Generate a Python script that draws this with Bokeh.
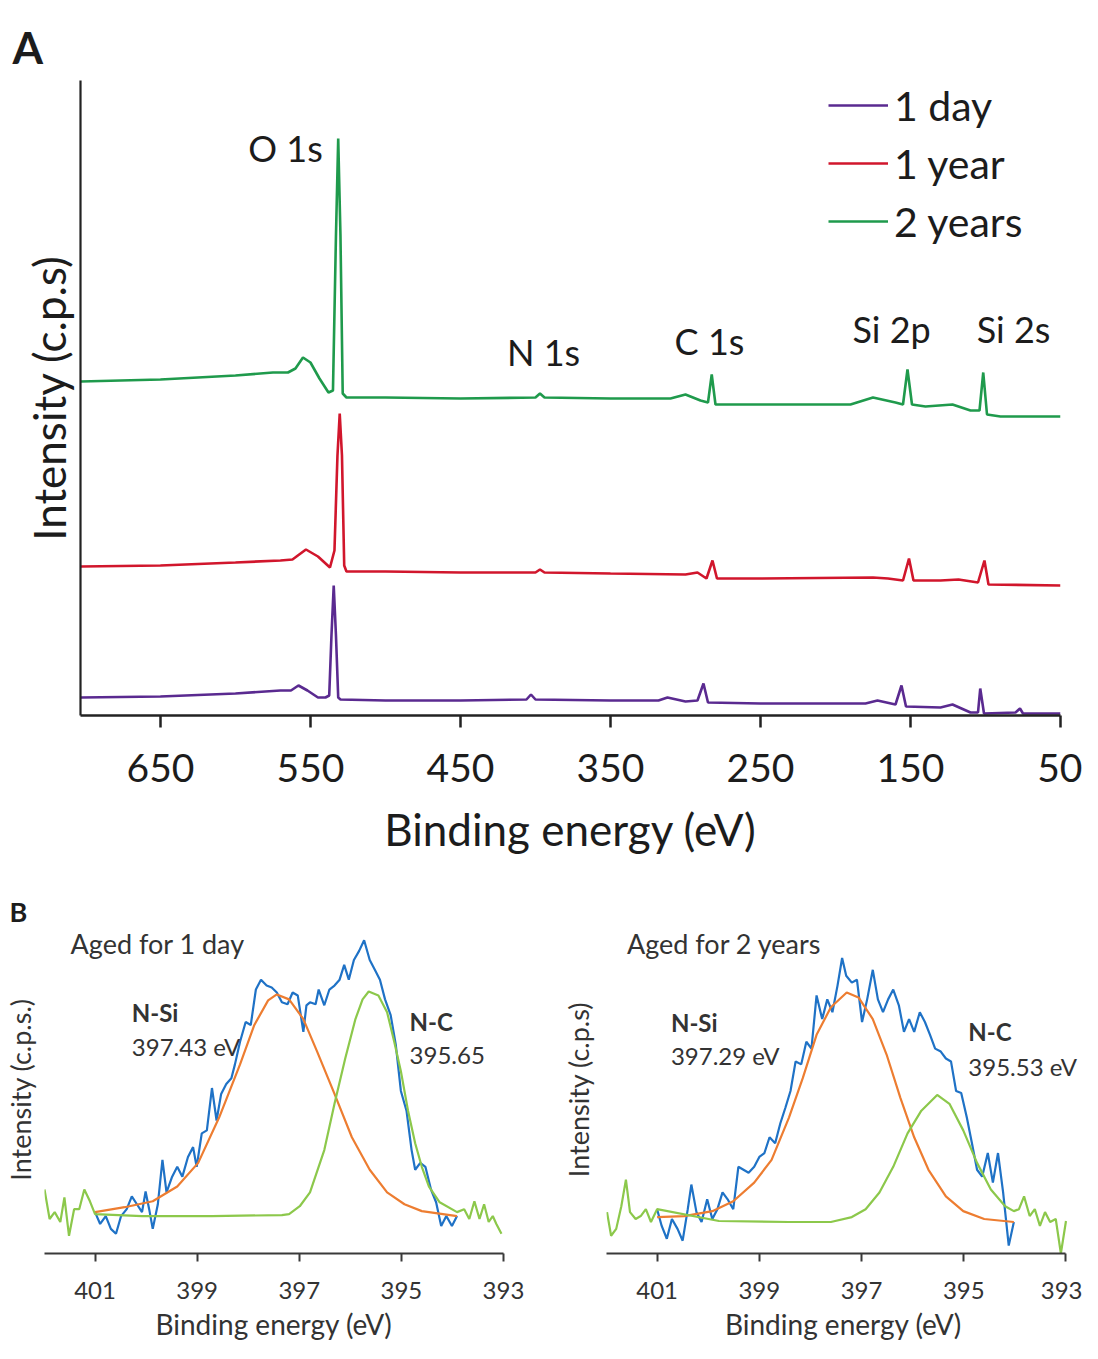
from bokeh.plotting import figure
from bokeh.models import Range1d, FixedTicker, Label, Legend, LegendItem
from bokeh.layouts import column, row
from bokeh.embed import file_html
from bokeh.resources import INLINE

FONT = "Lato"

# ---------------- Panel A : survey spectra ----------------
tick_A = [650, 550, 450, 350, 250, 150, 50]
series_A = ["1 day", "1 year", "2 years"]

be_1day = [703, 650, 600, 570, 563, 558, 552, 545, 540, 537.5, 536, 534.5, 533, 531.5, 530,
           500, 450, 406, 403, 400, 350, 318, 312, 300, 292, 288, 285, 250, 180, 172, 160,
           156, 153, 130, 122, 110, 105, 103.5, 101, 80, 77, 75, 50]
int_1day = [18, 19, 22, 25, 25, 30, 25, 18, 18, 20, 80, 130, 80, 18, 16,
            15, 15, 16, 21, 16, 15, 15, 18, 14, 15, 32, 13, 12, 12, 15, 11,
            30, 9, 8, 11, 3, 3, 27, 2, 3, 7, 2, 2]

be_1year = [703, 650, 600, 570, 562, 553, 545, 537, 534, 532, 530.5, 529, 527.5, 526,
            500, 450, 400, 397, 394, 350, 300, 292, 286, 282, 279, 250, 175, 165, 155,
            151, 148, 130, 118, 105, 100.7, 98, 50]
int_1year = [149, 150, 153, 155, 156, 166, 159, 148, 165, 260, 302, 260, 150, 144,
             144, 143, 143, 146, 143, 142, 141, 143, 137, 155, 137, 137, 138, 137, 135,
             157, 135, 135, 136, 133, 155, 131, 130]

be_2years = [703, 650, 600, 575, 565, 560, 555, 550, 544, 538, 535, 533, 531.5, 530, 528.5,
             526, 500, 450, 400, 397, 394, 350, 310, 300, 290, 285, 282.5, 280, 250, 190,
             175, 160, 155, 152, 149, 140, 122, 110, 104, 101.5, 99, 90, 50]
int_2years = [334, 336, 340, 343, 343, 347, 358, 353, 337, 323, 325, 480, 577, 480, 322,
              318, 318, 317, 318, 322, 318, 317, 317, 321, 315, 313, 341, 311, 311, 311,
              318, 313, 311, 346, 311, 309, 311, 305, 305, 343, 301, 299, 299]

peak_names = ["O 1s", "N 1s", "C 1s", "Si 2p", "Si 2s"]
peak_label_be = [566.6, 394.6, 284.0, 162.6, 81.3]
peak_label_int = [568, 364, 375, 387, 387]

# ---------------- Panel B : N 1s high resolution ----------------
tick_B = [401, 399, 397, 395, 393]

# Aged for 1 day
be_b1_data = [401.00, 400.90, 400.79, 400.69, 400.59, 400.49, 400.38, 400.28, 400.18, 400.08,
              400.01, 399.94, 399.87, 399.77, 399.68, 399.60, 399.49, 399.39, 399.29, 399.18,
              399.08, 399.01, 398.91, 398.81, 398.71, 398.62, 398.53, 398.43, 398.33, 398.26,
              398.16, 398.05, 397.95, 397.85, 397.75, 397.64, 397.54, 397.44, 397.34, 397.23,
              397.13, 397.03, 396.92, 396.86, 396.79, 396.68, 396.62, 396.51, 396.41, 396.31,
              396.21, 396.12, 396.03, 395.93, 395.83, 395.73, 395.62, 395.52, 395.42, 395.32,
              395.21, 395.11, 395.01, 394.90, 394.80, 394.73, 394.63, 394.53, 394.42, 394.32,
              394.22, 394.12, 394.01, 393.91]
int_b1_data = [42, 30, 38, 25, 20, 38, 45, 58, 50, 42,
               63, 45, 25, 50, 95, 62, 78, 88, 78, 98,
               108, 88, 122, 125, 168, 135, 162, 172, 178, 192,
               215, 235, 232, 268, 278, 272, 270, 265, 255, 253,
               265, 262, 225, 252, 255, 253, 268, 252, 268, 272,
               278, 293, 278, 298, 307, 318, 298, 288, 278, 258,
               242, 212, 165, 145, 105, 85, 92, 88, 65, 52,
               28, 38, 28, 38]

be_b1_nsi = [401.00, 400.42, 399.87, 399.39, 398.98, 398.57, 398.16, 397.88, 397.61, 397.44,
             397.20, 396.92, 396.65, 396.31, 395.97, 395.62, 395.28, 394.94, 394.60, 393.91]
int_b1_nsi = [42, 47, 53, 68, 92, 138, 192, 232, 257, 263,
              258, 238, 205, 162, 118, 85, 62, 50, 43, 38]

be_b1_nc = [401.99, 401.89, 401.79, 401.68, 401.60, 401.51, 401.41, 401.31, 401.21, 401.10, 401.00,
            400.08, 398.71, 397.34, 397.20, 396.99, 396.79, 396.51, 396.31, 396.10, 395.90,
            395.76, 395.64, 395.45, 395.28, 395.14, 395.01, 394.87, 394.73, 394.60, 394.46,
            394.25, 393.91, 393.77, 393.67, 393.57, 393.47, 393.38, 393.29, 393.21, 393.14, 393.04]
int_b1_nc = [65, 35, 42, 32, 57, 18, 45, 45, 65, 53, 40,
             38, 38, 39, 40, 48, 62, 105, 152, 198, 238,
             258, 266, 262, 245, 215, 185, 145, 112, 88, 68,
             52, 42, 45, 35, 53, 35, 50, 32, 38, 30, 20]

# Aged for 2 years
be_b2_data = [401.00, 400.91, 400.81, 400.71, 400.60, 400.50, 400.40, 400.33, 400.23, 400.13,
              400.02, 399.92, 399.82, 399.72, 399.62, 399.51, 399.41, 399.31, 399.21, 399.10,
              399.00, 398.90, 398.80, 398.69, 398.59, 398.49, 398.39, 398.29, 398.18, 398.08,
              397.98, 397.88, 397.77, 397.67, 397.57, 397.47, 397.38, 397.30, 397.19, 397.09,
              396.99, 396.89, 396.78, 396.68, 396.58, 396.48, 396.38, 396.27, 396.17, 396.07,
              395.97, 395.86, 395.76, 395.66, 395.56, 395.45, 395.35, 395.25, 395.15, 395.05,
              394.94, 394.84, 394.74, 394.64, 394.53, 394.43, 394.33, 394.23, 394.12, 394.02]
int_b2_data = [45, 28, 15, 35, 25, 13, 45, 70, 42, 32,
               55, 35, 45, 62, 55, 45, 88, 85, 82, 88,
               98, 102, 118, 112, 132, 148, 165, 195, 192, 215,
               208, 262, 238, 258, 245, 272, 300, 282, 275, 278,
               235, 258, 288, 258, 245, 258, 268, 252, 225, 238,
               225, 245, 235, 222, 208, 205, 198, 195, 165, 163,
               138, 112, 85, 78, 102, 72, 102, 62, 8, 32]

be_b2_nsi = [401.00, 400.47, 399.92, 399.51, 399.10, 398.76, 398.42, 398.15, 397.88, 397.60,
             397.29, 397.06, 396.78, 396.51, 396.24, 395.97, 395.69, 395.35, 395.01, 394.60, 394.02]
int_b2_nsi = [37, 38, 43, 53, 72, 95, 138, 178, 222, 250,
              265, 260, 238, 202, 158, 118, 85, 58, 43, 35, 32]

be_b2_nc = [401.98, 401.90, 401.80, 401.70, 401.61, 401.53, 401.42, 401.32, 401.22, 401.12, 401.00,
            399.79, 398.42, 397.60, 397.19, 396.92, 396.65, 396.38, 396.10, 395.83, 395.52,
            395.28, 395.01, 394.74, 394.47, 394.19, 394.02, 393.92, 393.82, 393.71, 393.61,
            393.51, 393.41, 393.31, 393.20, 393.10, 393.00]
int_b2_nc = [42, 18, 25, 48, 75, 42, 35, 38, 45, 32, 45,
             33, 32, 32, 37, 45, 62, 88, 122, 145, 161,
             152, 125, 92, 65, 48, 43, 45, 58, 38, 45,
             28, 42, 32, 35, 0, 33]

# ---------------- styling ----------------
C_DAY, C_YEAR, C_2YEARS = "#5a2a90", "#d1162c", "#1f9a4c"
C_DATA, C_NSI, C_NC = "#1f72c6", "#ed7d31", "#8cc84b"
TXT = "#1c1c1c"
TXT_B = "#333333"


def clean(p):
    p.outline_line_color = None
    p.grid.visible = False
    p.background_fill_color = "white"
    p.border_fill_color = "white"


# Panel A figure
pA = figure(width=1082, height=880, x_range=Range1d(703.3, 50), y_range=Range1d(0, 635),
            output_backend="svg", toolbar_location=None,
            min_border_left=80, min_border_right=22, min_border_top=80, min_border_bottom=165)
clean(pA)
pA.title.text = "A"
pA.title.align = "left"
pA.title.offset = -68
pA.title.standoff = 16
pA.title.text_font = FONT
pA.title.text_font_size = "44px"
pA.title.text_font_style = "bold"
pA.title.text_color = TXT

rA = []
for be, it, col in [(be_1day, int_1day, C_DAY), (be_1year, int_1year, C_YEAR),
                    (be_2years, int_2years, C_2YEARS)]:
    rA.append(pA.line(be, it, line_color=col, line_width=2.6))

xa = pA.xaxis[0]
xa.ticker = FixedTicker(ticks=tick_A)
xa.major_tick_out = 12
xa.major_tick_in = 0
xa.major_tick_line_width = 2.5
xa.major_tick_line_color = "#222222"
xa.minor_tick_line_color = None
xa.axis_line_width = 2.5
xa.axis_line_color = "#222222"
xa.major_label_text_font = FONT
xa.major_label_text_font_size = "39px"
xa.major_label_text_color = TXT
xa.major_label_standoff = 26
xa.axis_label = "Binding energy (eV)"
xa.axis_label_text_font = FONT
xa.axis_label_text_font_size = "44px"
xa.axis_label_text_font_style = "normal"
xa.axis_label_text_color = TXT
xa.axis_label_standoff = 18

ya = pA.yaxis[0]
ya.ticker = FixedTicker(ticks=[])
ya.major_tick_line_color = None
ya.minor_tick_line_color = None
ya.axis_line_width = 2.2
ya.axis_line_color = "#222222"
ya.axis_label = "Intensity (c.p.s)"
ya.axis_label_text_font = FONT
ya.axis_label_text_font_size = "44px"
ya.axis_label_text_font_style = "normal"
ya.axis_label_text_color = TXT
ya.axis_label_standoff = 6

legend = Legend(items=[LegendItem(label=s, renderers=[r]) for s, r in zip(series_A, rA)],
                location=(748, 469), orientation="vertical",
                label_text_font=FONT, label_text_font_size="41px", label_text_color=TXT,
                glyph_width=60, glyph_height=50, label_height=50, label_standoff=6,
                spacing=8, padding=0, margin=0,
                border_line_color=None, background_fill_alpha=0)
pA.add_layout(legend)

for name, bx, by in zip(peak_names, peak_label_be, peak_label_int):
    pA.add_layout(Label(x=bx, y=by, text=name, text_font=FONT, text_font_size="36px",
                        text_color=TXT, text_align="center", text_baseline="middle"))


def panel_b(width, left, right, x_end, title, nsi_val, nc_val, ylab, ylab_standoff,
            data, nsi_fit, nc_fit, txt_pos, letter=None, letter_offset=0):
    p = figure(width=width, height=463, x_range=Range1d(401.99, x_end), y_range=Range1d(0, 333),
               output_backend="svg", toolbar_location=None,
               min_border_left=left, min_border_right=right, min_border_top=45,
               min_border_bottom=89)
    clean(p)
    if letter:
        p.title.text = letter
        p.title.align = "left"
        p.title.offset = letter_offset
        p.title.standoff = -5
        p.title.text_font = FONT
        p.title.text_font_size = "27px"
        p.title.text_font_style = "bold"
        p.title.text_color = TXT
    p.line(data[0], data[1], line_color=C_DATA, line_width=2.2)
    p.line(nsi_fit[0], nsi_fit[1], line_color=C_NSI, line_width=2.2)
    p.line(nc_fit[0], nc_fit[1], line_color=C_NC, line_width=2.2)

    xb = p.xaxis[0]
    xb.bounds = (393, 401.99)
    xb.ticker = FixedTicker(ticks=tick_B)
    xb.major_tick_out = 8
    xb.major_tick_in = 0
    xb.major_tick_line_width = 2
    xb.major_tick_line_color = "#3a3a3a"
    xb.minor_tick_line_color = None
    xb.axis_line_width = 2
    xb.axis_line_color = "#3a3a3a"
    xb.major_label_text_font = FONT
    xb.major_label_text_font_size = "24px"
    xb.major_label_text_color = TXT_B
    xb.major_label_standoff = 20
    xb.axis_label = "Binding energy (eV)"
    xb.axis_label_text_font = FONT
    xb.axis_label_text_font_size = "28px"
    xb.axis_label_text_font_style = "normal"
    xb.axis_label_text_color = TXT_B
    xb.axis_label_standoff = 5

    yb = p.yaxis[0]
    yb.ticker = FixedTicker(ticks=[])
    yb.major_tick_line_color = None
    yb.minor_tick_line_color = None
    yb.axis_line_color = None
    yb.axis_label = ylab
    yb.axis_label_text_font = FONT
    yb.axis_label_text_font_size = "27px"
    yb.axis_label_text_font_style = "normal"
    yb.axis_label_text_color = TXT_B
    yb.axis_label_standoff = ylab_standoff

    (tx, ty), (sx, sy1, sy2), (cx, cy1, cy2) = txt_pos
    p.add_layout(Label(x=tx, y=ty, text=title, text_font=FONT, text_font_size="27px",
                       text_color=TXT_B, text_align="left", text_baseline="middle"))
    p.add_layout(Label(x=sx, y=sy1, text="N-Si", text_font=FONT, text_font_size="24px",
                       text_font_style="bold", text_color=TXT_B, text_align="left",
                       text_baseline="middle"))
    p.add_layout(Label(x=sx, y=sy2, text=nsi_val, text_font=FONT, text_font_size="24px",
                       text_color=TXT_B, text_align="left", text_baseline="middle"))
    p.add_layout(Label(x=cx, y=cy1, text="N-C", text_font=FONT, text_font_size="24px",
                       text_font_style="bold", text_color=TXT_B, text_align="left",
                       text_baseline="middle"))
    p.add_layout(Label(x=cx, y=cy2, text=nc_val, text_font=FONT, text_font_size="24px",
                       text_color=TXT_B, text_align="left", text_baseline="middle"))
    return p


pB1 = panel_b(558, 42, 55, 393, "Aged for 1 day", "397.43 eV", "395.65",
              "Intensity (c.p.s.)", 8,
              (be_b1_data, int_b1_data), (be_b1_nsi, int_b1_nsi), (be_b1_nc, int_b1_nc),
              ((401.48, 315), (400.28, 245, 210), (394.84, 236, 201)),
              letter="B", letter_offset=-35)
pB2 = panel_b(524, 48, 2, 392.716, "Aged for 2 years", "397.29 eV", "395.53 eV",
              "Intensity (c.p.s)", 12,
              (be_b2_data, int_b2_data), (be_b2_nsi, int_b2_nsi), (be_b2_nc, int_b2_nc),
              ((401.59, 315), (400.73, 235, 201), (394.91, 225, 190)))

layout = column(pA, row(pB1, pB2, spacing=0), spacing=0)
open("out.html", "w").write(file_html(layout, INLINE))
